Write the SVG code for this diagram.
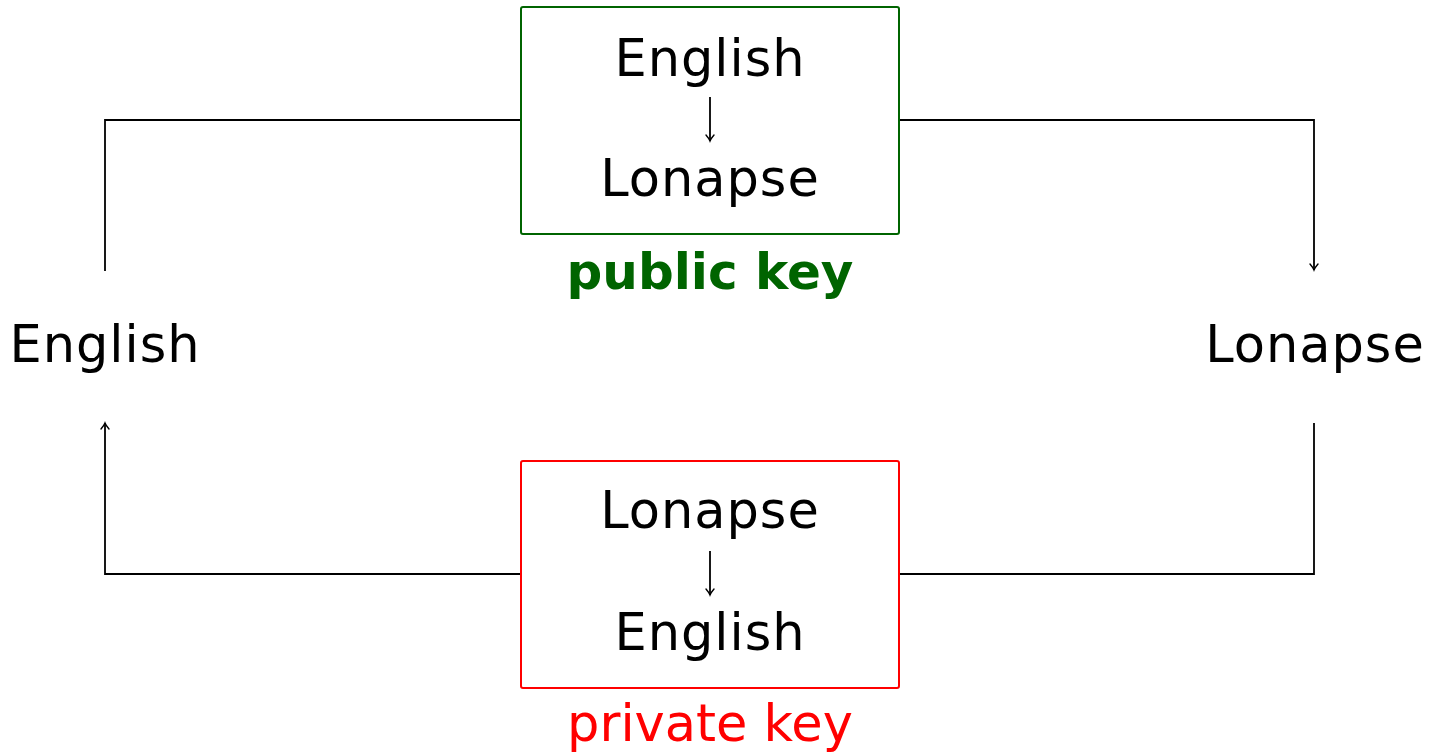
<svg xmlns="http://www.w3.org/2000/svg" width="1434" height="754" viewBox="0 0 1434 754">
<defs>
<marker id="arr" viewBox="-7 -5 9 10" refX="0" refY="0" markerWidth="9" markerHeight="10" markerUnits="userSpaceOnUse" orient="auto">
<path d="M-6,-4 Q-2.5,-1 0,0 Q-2.5,1 -6,4" fill="none" stroke="#000" stroke-width="1.4" stroke-linecap="round"/>
</marker>
<style>
.t{font-family:"DejaVu Sans",sans-serif;font-size:51px;text-anchor:middle;fill:#000;letter-spacing:1px}
.c{fill:none;stroke:#000;stroke-width:1.8}
</style>
</defs>
<rect width="1434" height="754" fill="#fff"/>
<g id="connectors">
<path class="c" d="M105,271 V120 H521"/>
<path class="c" d="M899,120 H1314 V270" marker-end="url(#arr)"/>
<path class="c" d="M1314,423 V574 H899"/>
<path class="c" d="M521,574 H105 V423" marker-end="url(#arr)"/>
<path class="c" d="M710,97 V141" marker-end="url(#arr)"/>
<path class="c" d="M710,551 V595" marker-end="url(#arr)"/>
</g>
<g id="public">
<rect x="521" y="7" width="378" height="227" rx="2" fill="none" stroke="#006400" stroke-width="2"/>
<text class="t" x="710" y="76">English</text>
<text class="t" x="710" y="196">Lonapse</text>
<text x="710" y="289" font-family="DejaVu Sans, sans-serif" font-size="50" font-weight="bold" fill="#006400" text-anchor="middle">public key</text>
</g>
<g id="private">
<rect x="521" y="461" width="378" height="227" rx="2" fill="none" stroke="#ff0000" stroke-width="2"/>
<text class="t" x="710" y="528">Lonapse</text>
<text class="t" x="710" y="650">English</text>
<text x="710" y="741" font-family="DejaVu Sans, sans-serif" font-size="51" fill="#ff0000" text-anchor="middle">private key</text>
</g>
<g id="english">
<text class="t" x="105" y="362">English</text>
</g>
<g id="lonapse">
<text class="t" x="1315" y="362">Lonapse</text>
</g>
</svg>
